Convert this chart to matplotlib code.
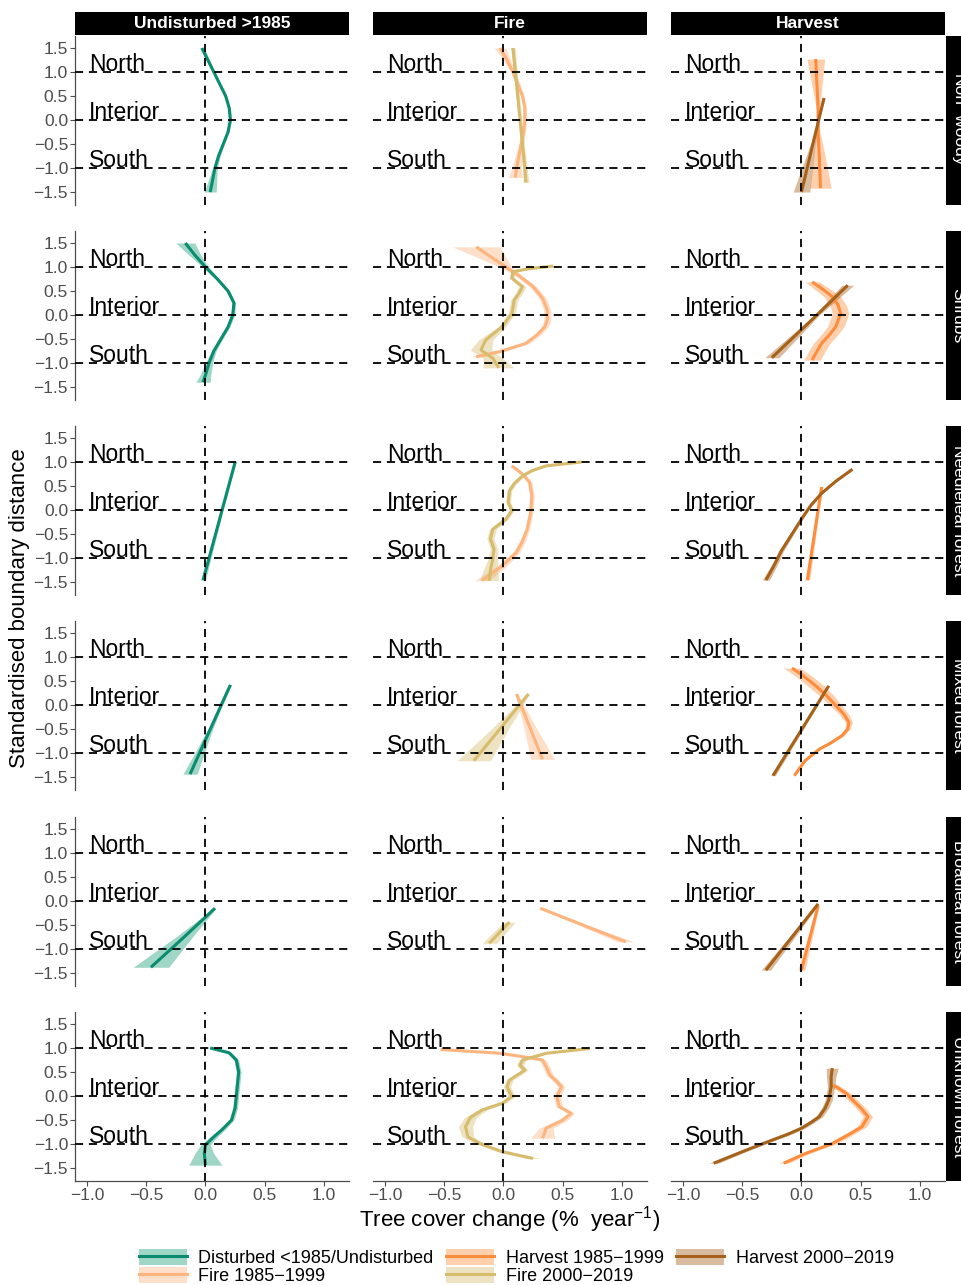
import matplotlib
matplotlib.use("Agg")
import matplotlib.pyplot as plt
from matplotlib.patches import Patch
from matplotlib.lines import Line2D
from matplotlib.ticker import FuncFormatter
import numpy as np

plt.rcParams['font.family'] = ['Liberation Sans', 'DejaVu Sans']
plt.rcParams['mathtext.fontset'] = 'custom'
plt.rcParams['mathtext.rm'] = 'Liberation Sans'
plt.rcParams['mathtext.it'] = 'Liberation Sans'

# ---------------- data ----------------
col_titles = ["Undisturbed >1985", "Fire", "Harvest"]
row_titles = ["Non\u2212woody", "Shrubs", "Needleleaf forest", "Mixed forest",
              "Broadleaf forest", "Unknown forest"]
series_names = ["Disturbed <1985/Undisturbed", "Fire 1985\u22121999",
                "Harvest 1985\u22121999", "Fire 2000\u22122019", "Harvest 2000\u22122019"]
zone_labels = ["North", "Interior", "South"]
zone_positions = [1.0, 0.0, -1.0]
y_ticks = [-1.5, -1.0, -0.5, 0.0, 0.5, 1.0, 1.5]
x_ticks = [-1.0, -0.5, 0.0, 0.5, 1.0]

# each curve: (boundary distance, tree cover change, ribbon half-width)
nonwoody_undist = [(1.5, -0.03, 0.02), (1.25, 0.02, 0.015), (1.0, 0.07, 0.01), (0.75, 0.12, 0.01),
                   (0.5, 0.17, 0.01), (0.25, 0.20, 0.01), (0.0, 0.21, 0.01), (-0.25, 0.19, 0.01),
                   (-0.5, 0.15, 0.01), (-0.75, 0.11, 0.015), (-1.0, 0.08, 0.02), (-1.25, 0.06, 0.035),
                   (-1.5, 0.04, 0.05)]
nonwoody_fire85 = [(1.5, -0.03, 0.05), (1.25, 0.03, 0.03), (1.0, 0.08, 0.02), (0.75, 0.12, 0.02),
                   (0.5, 0.16, 0.015), (0.25, 0.18, 0.015), (0.0, 0.18, 0.015), (-0.25, 0.17, 0.015),
                   (-0.5, 0.15, 0.02), (-0.75, 0.13, 0.03), (-1.0, 0.11, 0.04), (-1.2, 0.10, 0.06)]
nonwoody_fire00 = [(1.5, 0.08, 0.02), (1.0, 0.10, 0.015), (0.5, 0.12, 0.015), (0.0, 0.14, 0.015),
                   (-0.5, 0.16, 0.015), (-1.0, 0.18, 0.02), (-1.3, 0.19, 0.025)]
nonwoody_harv85 = [(1.27, 0.12, 0.075), (0.75, 0.13, 0.045), (0.25, 0.14, 0.015), (0.0, 0.14, 0.005),
                   (-0.25, 0.14, 0.015), (-0.75, 0.15, 0.05), (-1.42, 0.16, 0.09)]
nonwoody_harv00 = [(0.46, 0.19, 0.01), (0.0, 0.145, 0.005), (-0.5, 0.096, 0.02), (-1.0, 0.048, 0.045),
                   (-1.5, 0.0, 0.07)]

shrubs_undist = [(1.5, -0.17, 0.08), (1.25, -0.09, 0.05), (1.0, 0.0, 0.025), (0.75, 0.10, 0.015),
                 (0.5, 0.19, 0.015), (0.25, 0.24, 0.015), (0.0, 0.23, 0.015), (-0.25, 0.19, 0.015),
                 (-0.5, 0.13, 0.015), (-0.75, 0.07, 0.02), (-1.0, 0.03, 0.03), (-1.25, 0.0, 0.045),
                 (-1.4, -0.02, 0.06)]
shrubs_fire85 = [(1.42, -0.23, 0.2), (1.2, -0.10, 0.12), (1.0, 0.02, 0.05), (0.8, 0.14, 0.03),
                 (0.59, 0.25, 0.03), (0.35, 0.33, 0.03), (0.1, 0.37, 0.03), (-0.1, 0.37, 0.03),
                 (-0.24, 0.35, 0.03), (-0.4, 0.29, 0.03), (-0.59, 0.19, 0.03), (-0.76, -0.03, 0.04),
                 (-0.87, -0.23, 0.06)]
shrubs_fire00 = [(1.02, 0.42, 0.01), (0.96, 0.2, 0.02), (0.9, 0.08, 0.02), (0.77, 0.07, 0.02),
                 (0.59, 0.16, 0.03), (0.45, 0.13, 0.03), (0.31, 0.09, 0.03), (0.15, 0.08, 0.03),
                 (0.03, 0.07, 0.03), (-0.24, -0.01, 0.03), (-0.52, -0.15, 0.06), (-0.73, -0.19, 0.09),
                 (-0.9, -0.09, 0.08), (-1.1, -0.04, 0.13)]
shrubs_harv85 = [(0.69, 0.09, 0.06), (0.5, 0.2, 0.07), (0.38, 0.26, 0.07), (0.2, 0.31, 0.07),
                 (0.03, 0.33, 0.07), (-0.24, 0.29, 0.07), (-0.4, 0.24, 0.07), (-0.59, 0.17, 0.07),
                 (-0.8, 0.12, 0.07), (-0.94, 0.09, 0.07)]
shrubs_harv00 = [(0.62, 0.39, 0.05), (0.0, 0.13, 0.02), (-0.89, -0.25, 0.06)]

needle_undist = [(1.0, 0.25, 0.01), (0.0, 0.14, 0.008), (-1.46, -0.02, 0.02)]
needle_fire85 = [(0.92, 0.07, 0.02), (0.75, 0.16, 0.02), (0.58, 0.22, 0.02), (0.3, 0.24, 0.02),
                 (-0.05, 0.23, 0.02), (-0.4, 0.2, 0.02), (-0.65, 0.16, 0.025), (-0.88, 0.11, 0.03),
                 (-1.16, -0.01, 0.04), (-1.47, -0.18, 0.06)]
needle_fire00 = [(1.0, 0.66, 0.01), (0.92, 0.36, 0.02), (0.82, 0.24, 0.02), (0.71, 0.16, 0.02),
                 (0.55, 0.09, 0.02), (0.4, 0.05, 0.02), (0.16, 0.04, 0.02), (-0.01, 0.07, 0.02),
                 (-0.19, 0.02, 0.02), (-0.4, -0.09, 0.03), (-0.6, -0.11, 0.03), (-0.81, -0.08, 0.03),
                 (-1.02, -0.09, 0.04), (-1.25, -0.11, 0.06), (-1.47, -0.12, 0.08)]
needle_harv85 = [(0.48, 0.17, 0.01), (0.0, 0.14, 0.01), (-1.46, 0.05, 0.02)]
needle_harv00 = [(0.85, 0.43, 0.01), (0.6, 0.29, 0.01), (0.35, 0.17, 0.01), (0.1, 0.08, 0.01),
                 (-0.15, 0.01, 0.01), (-0.5, -0.08, 0.015), (-0.85, -0.17, 0.02),
                 (-1.15, -0.23, 0.025), (-1.46, -0.3, 0.03)]

mixed_undist = [(0.42, 0.21, 0.01), (0.0, 0.133, 0.01), (-0.5, 0.041, 0.02), (-1.0, -0.05, 0.04),
                (-1.44, -0.13, 0.06)]
mixed_fire85 = [(0.23, 0.11, 0.01), (-0.45, 0.22, 0.05), (-1.13, 0.33, 0.1)]
mixed_fire00 = [(0.23, 0.21, 0.01), (-0.47, -0.02, 0.07), (-1.16, -0.25, 0.14)]
mixed_harv85 = [(0.77, -0.08, 0.07), (0.6, 0.02, 0.07), (0.4, 0.12, 0.07), (0.2, 0.21, 0.06),
                (-0.01, 0.29, 0.05), (-0.2, 0.36, 0.04), (-0.36, 0.4, 0.03), (-0.5, 0.39, 0.02),
                (-0.64, 0.34, 0.02), (-0.8, 0.24, 0.015), (-0.92, 0.15, 0.01), (-1.16, 0.03, 0.01),
                (-1.47, -0.06, 0.01)]
mixed_harv00 = [(0.4, 0.23, 0.005), (-1.47, -0.24, 0.02)]

broad_undist = [(-0.15, 0.08, 0.01), (-0.75, -0.18, 0.07), (-1.38, -0.46, 0.15)]
broad_fire85 = [(-0.15, 0.31, 0.02), (-0.5, 0.67, 0.04), (-0.85, 1.03, 0.07)]
broad_fire00 = [(-0.44, 0.05, 0.05), (-0.88, -0.12, 0.06)]
broad_harv85 = [(-0.1, 0.14, 0.01), (-1.44, 0.0, 0.03)]
broad_harv00 = [(-0.06, 0.14, 0.01), (-1.44, -0.3, 0.04)]

unknown_undist = [(1.0, 0.04, 0.02), (0.9, 0.2, 0.02), (0.75, 0.26, 0.02), (0.5, 0.28, 0.02),
                  (0.25, 0.27, 0.02), (0.0, 0.26, 0.02), (-0.25, 0.25, 0.02), (-0.5, 0.22, 0.02),
                  (-0.7, 0.14, 0.025), (-0.85, 0.07, 0.03), (-1.02, 0.0, 0.04), (-1.2, -0.01, 0.08),
                  (-1.44, 0.0, 0.14)]
unknown_fire85 = [(0.97, -0.53, 0.01), (0.89, -0.03, 0.02), (0.82, 0.16, 0.02), (0.75, 0.33, 0.03),
                  (0.61, 0.36, 0.03), (0.44, 0.39, 0.03), (0.3, 0.45, 0.03), (0.19, 0.49, 0.03),
                  (-0.01, 0.45, 0.03), (-0.22, 0.47, 0.03), (-0.36, 0.57, 0.03), (-0.5, 0.5, 0.04),
                  (-0.67, 0.36, 0.06), (-0.88, 0.33, 0.1)]
unknown_fire00 = [(0.99, 0.73, 0.01), (0.89, 0.36, 0.02), (0.75, 0.16, 0.03), (0.64, 0.14, 0.03),
                  (0.54, 0.18, 0.03), (0.33, 0.05, 0.03), (0.19, 0.03, 0.03), (-0.01, 0.07, 0.03),
                  (-0.15, -0.01, 0.03), (-0.29, -0.18, 0.04), (-0.45, -0.28, 0.05),
                  (-0.64, -0.32, 0.06), (-0.85, -0.3, 0.05), (-0.99, -0.2, 0.04),
                  (-1.16, -0.01, 0.04), (-1.3, 0.25, 0.06)]
unknown_harv85 = [(0.23, 0.27, 0.04), (0.05, 0.38, 0.04), (-0.08, 0.43, 0.04), (-0.25, 0.5, 0.04),
                  (-0.43, 0.56, 0.04), (-0.64, 0.51, 0.04), (-0.8, 0.4, 0.04), (-0.99, 0.26, 0.035),
                  (-1.2, 0.03, 0.035), (-1.4, -0.15, 0.04)]
unknown_harv00 = [(0.58, 0.26, 0.05), (0.4, 0.25, 0.04), (0.19, 0.25, 0.03), (-0.08, 0.23, 0.03),
                  (-0.25, 0.2, 0.03), (-0.43, 0.15, 0.03), (-0.55, 0.08, 0.03), (-0.67, 0.0, 0.03),
                  (-0.8, -0.12, 0.03), (-0.92, -0.25, 0.03), (-1.16, -0.5, 0.03), (-1.4, -0.74, 0.04)]

# ---------------- styles ----------------
line_colors = {
    series_names[0]: "#0B8B6F",
    series_names[1]: "#FDB57F",
    series_names[2]: "#FD8D3C",
    series_names[3]: "#D6BC6C",
    series_names[4]: "#A6611A",
}
fill_colors = {
    series_names[0]: "#1B9E77",
    series_names[1]: "#FDB57F",
    series_names[2]: "#FD8D3C",
    series_names[3]: "#D6BC6C",
    series_names[4]: "#A6611A",
}
fill_alpha = 0.42

U, F85, H85, F00, H00 = series_names
panels = {
    (0, 0): [(U, nonwoody_undist)],
    (0, 1): [(F85, nonwoody_fire85), (F00, nonwoody_fire00)],
    (0, 2): [(H85, nonwoody_harv85), (H00, nonwoody_harv00)],
    (1, 0): [(U, shrubs_undist)],
    (1, 1): [(F85, shrubs_fire85), (F00, shrubs_fire00)],
    (1, 2): [(H85, shrubs_harv85), (H00, shrubs_harv00)],
    (2, 0): [(U, needle_undist)],
    (2, 1): [(F85, needle_fire85), (F00, needle_fire00)],
    (2, 2): [(H85, needle_harv85), (H00, needle_harv00)],
    (3, 0): [(U, mixed_undist)],
    (3, 1): [(F85, mixed_fire85), (F00, mixed_fire00)],
    (3, 2): [(H85, mixed_harv85), (H00, mixed_harv00)],
    (4, 0): [(U, broad_undist)],
    (4, 1): [(F85, broad_fire85), (F00, broad_fire00)],
    (4, 2): [(H85, broad_harv85), (H00, broad_harv00)],
    (5, 0): [(U, unknown_undist)],
    (5, 1): [(F85, unknown_fire85), (F00, unknown_fire00)],
    (5, 2): [(H85, unknown_harv85), (H00, unknown_harv00)],
}

# ---------------- layout ----------------
W, H = 961, 1285
fig = plt.figure(figsize=(W / 100, H / 100), dpi=100)


def px_axes(left, top, width, height):
    return fig.add_axes([left / W, 1 - (top + height) / H, width / W, height / H])


col_left = [75, 373, 671]
col_w = 274
row_top = [36, 231, 426, 621, 817, 1012]
row_h = 169
axis_col = "#4D4D4D"


def fmt(v, pos):
    s = f"{v:.1f}"
    if s == "-0.0":
        s = "0.0"
    return s.replace("-", "\u2212")


for r in range(6):
    for c in range(3):
        ax = px_axes(col_left[c], row_top[r], col_w, row_h)
        ax.set_xlim(-1.1, 1.21)
        ax.set_ylim(-1.77, 1.75)
        for s in ax.spines.values():
            s.set_visible(False)
        for name, data in panels[(r, c)]:
            arr = np.array(data)
            y, x, hw = arr[:, 0], arr[:, 1], arr[:, 2]
            ax.fill_betweenx(y, x - hw, x + hw, color=fill_colors[name], alpha=fill_alpha,
                             lw=0, zorder=2)
            ax.plot(x, y, color=line_colors[name], lw=2.2, zorder=3, solid_capstyle='butt')
        for yy in zone_positions:
            ax.axhline(yy, color='black', lw=1.3, ls=(0, (4.5, 3.2)), zorder=5)
        ax.axvline(0, color='black', lw=1.3, ls=(0, (4.5, 3.2)), zorder=5)
        for lab, yy in zip(zone_labels, zone_positions):
            ax.text(-0.98, yy + 0.02, lab, fontsize=16.5, ha='left', va='baseline',
                    color='black', zorder=4)
        if c == 0:
            ax.spines['left'].set_visible(True)
            ax.spines['left'].set_color(axis_col)
            ax.spines['left'].set_linewidth(0.9)
            ax.set_yticks(y_ticks)
            ax.yaxis.set_major_formatter(FuncFormatter(fmt))
            ax.tick_params(axis='y', labelsize=12.5, labelcolor=axis_col, color=axis_col,
                           length=3.5, width=0.8, pad=1.5)
        else:
            ax.set_yticks([])
        if r == 5:
            ax.spines['bottom'].set_visible(True)
            ax.spines['bottom'].set_color(axis_col)
            ax.spines['bottom'].set_linewidth(0.9)
            ax.set_xticks(x_ticks)
            ax.xaxis.set_major_formatter(FuncFormatter(fmt))
            ax.tick_params(axis='x', labelsize=12.5, labelcolor=axis_col, color=axis_col,
                           length=3.5, width=0.8, pad=1.5)
        else:
            ax.set_xticks([])
        ax.set_facecolor('none')

# top strips
for c, title in enumerate(col_titles):
    sax = px_axes(col_left[c], 12, col_w, 23)
    sax.set_facecolor('black')
    sax.set_xticks([]); sax.set_yticks([])
    for s in sax.spines.values():
        s.set_visible(False)
    sax.text(0.5, 0.5, title, transform=sax.transAxes, color='white', fontsize=12.5,
             fontweight='bold', ha='center', va='center')

# right strips (partially outside the canvas)
for r, title in enumerate(row_titles):
    sax = px_axes(946, row_top[r], 24, row_h)
    sax.set_facecolor('black')
    sax.set_xticks([]); sax.set_yticks([])
    for s in sax.spines.values():
        s.set_visible(False)
    sax.text(0.5, 0.5, title, transform=sax.transAxes, color='white', fontsize=12.5,
             ha='center', va='center', rotation=270)

# axis titles
fig.text(20 / W, 1 - 608 / H, "Standardised boundary distance", rotation=90,
         fontsize=16, ha='center', va='center')
fig.text(510 / W, 1 - 1220 / H, "Tree cover change (%  year$^{-1}$)",
         fontsize=16, ha='center', va='center')

# legend
handles = []
for name in series_names:
    handles.append((Patch(facecolor=fill_colors[name], alpha=fill_alpha, lw=0),
                    Line2D([], [], color=line_colors[name], lw=2.2)))
fig.legend(handles, series_names, ncol=3, loc='center',
           bbox_to_anchor=(516.5 / W, 1 - 1267 / H), frameon=False, fontsize=13,
           handlelength=2.65, handleheight=0.95, handletextpad=0.65,
           columnspacing=0.7, labelspacing=0.0, borderpad=0.0)

fig.savefig("out.png", dpi=100)
